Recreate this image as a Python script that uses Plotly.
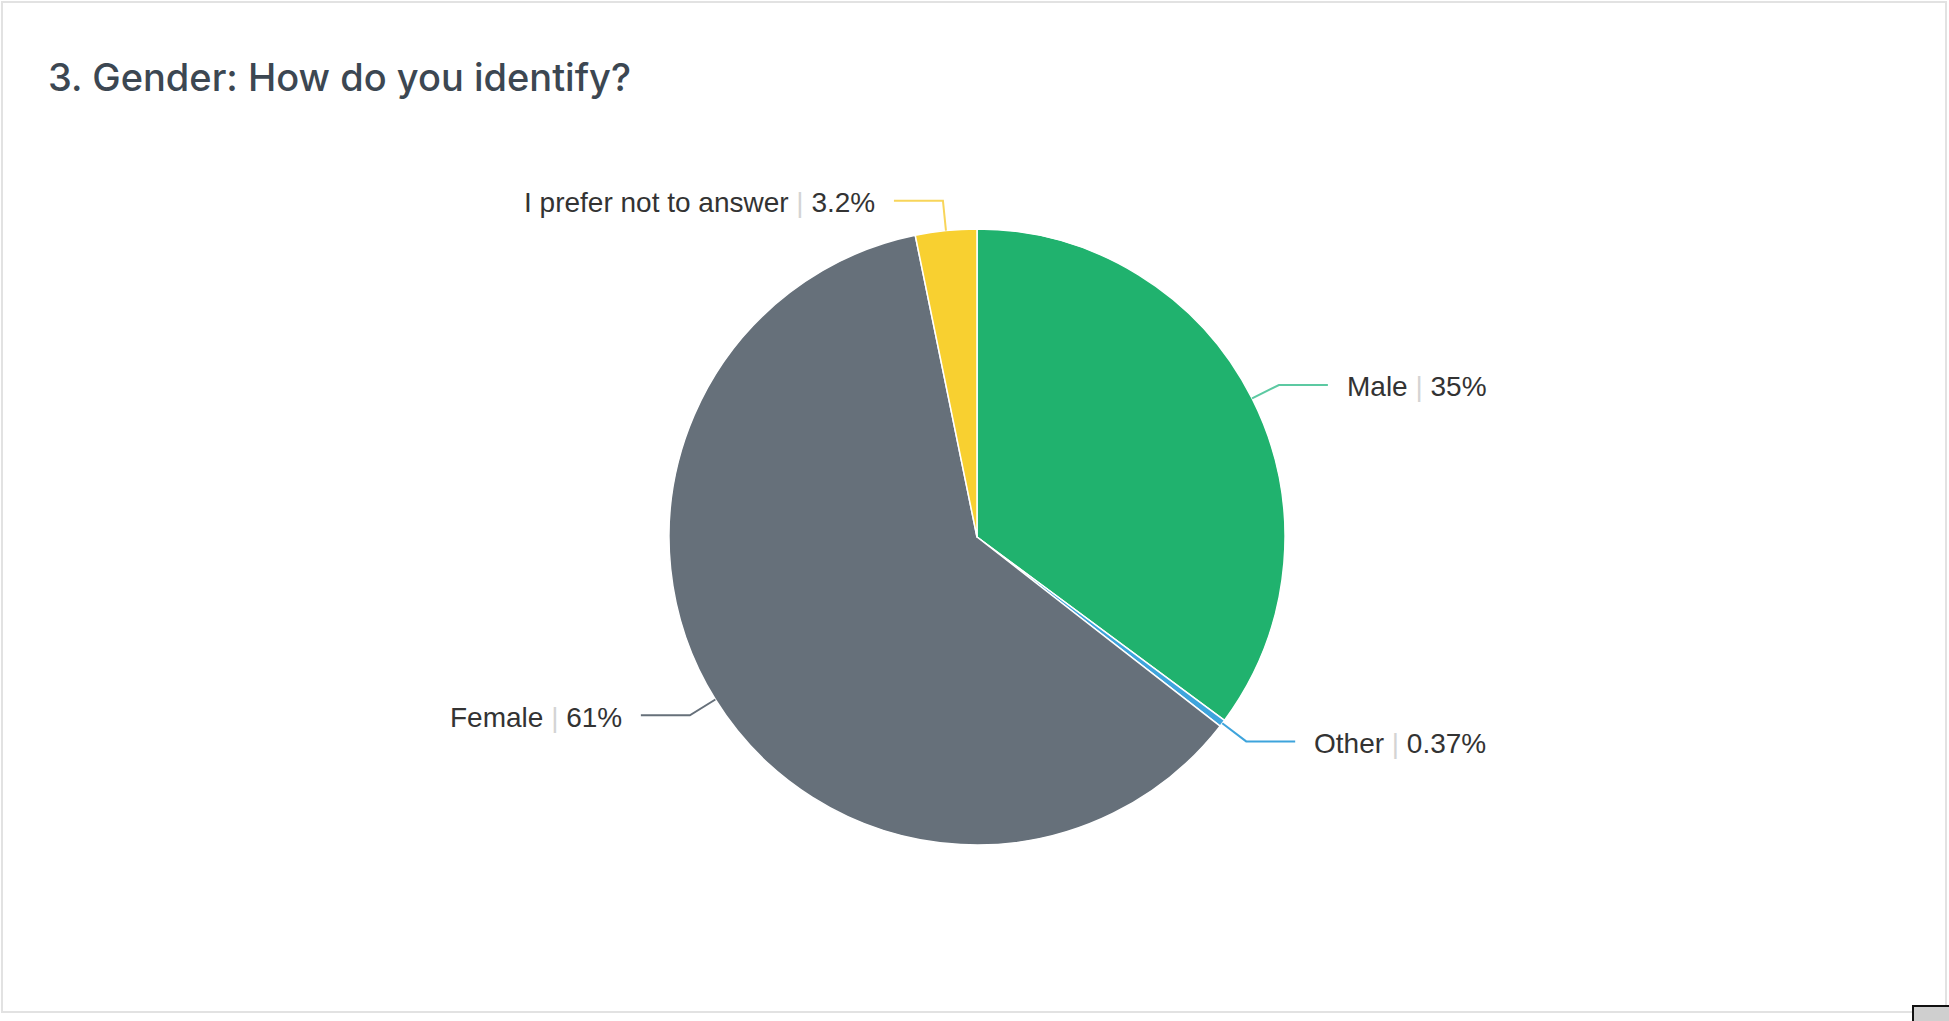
import math
import plotly.graph_objects as go

# ---- data ----
categories = ["Male", "Other", "Female", "I prefer not to answer"]
percent_values = [35, 0.37, 61, 3.2]
percent_labels = ["35%", "0.37%", "61%", "3.2%"]
slice_colors = ["#20b26e", "#3ea4dc", "#66707a", "#f8d030"]
line_colors = ["#5cc9a2", "#3ea4dc", "#66707a", "#f8d55a"]
title_text = "3. Gender: How do you identify?"

# ---- layout geometry (pixels) ----
W, H = 1949, 1021
CX, CY, R = 977, 537, 308
RADIAL = 30
HORIZ = 49
GAP = 17


def px(x):
    return x / W


def py(y):
    return 1 - y / H


fig = go.Figure()
fig.add_trace(go.Pie(
    labels=categories,
    values=percent_values,
    sort=False,
    direction="clockwise",
    rotation=0,
    marker=dict(colors=slice_colors, line=dict(color="white", width=1.5)),
    textinfo="none",
    textposition="none",
    hoverinfo="label+percent",
    showlegend=False,
    domain=dict(x=[px(CX - R), px(CX + R)], y=[py(CY + R), py(CY - R)]),
))

shapes = []
annotations = []
total = sum(percent_values)
cum = 0.0
for cat, val, lab, lc in zip(categories, percent_values, percent_labels, line_colors):
    mid = (cum + val / 2) / total * 2 * math.pi
    cum += val
    sx, sy = math.sin(mid), -math.cos(mid)
    x0, y0 = CX + R * sx, CY + R * sy
    x1, y1 = CX + (R + RADIAL) * sx, CY + (R + RADIAL) * sy
    side = 1 if sx > 0 else -1
    x2 = x1 + side * HORIZ
    path = f"M {px(x0)} {py(y0)} L {px(x1)} {py(y1)} L {px(x2)} {py(y1)}"
    shapes.append(dict(type="path", xref="paper", yref="paper", path=path,
                       line=dict(color=lc, width=2)))
    text = f"{cat}&nbsp;<span style='color:#d4d4d4'>|</span>&nbsp;{lab}"
    annotations.append(dict(
        x=px(x2 + side * GAP), y=py(y1 + 2), xref="paper", yref="paper",
        text=text, showarrow=False,
        xanchor="left" if side > 0 else "right", yanchor="middle",
        font=dict(family="Liberation Sans, Arial, sans-serif", size=28, color="#333333"),
    ))

# title
annotations.append(dict(
    x=px(46), y=py(77), xref="paper", yref="paper", text=title_text,
    showarrow=False, xanchor="left", yanchor="middle",
    font=dict(family="Inter, sans-serif", size=38, color="#3c4752", weight=500),
))

# card frame
shapes.append(dict(type="rect", xref="paper", yref="paper",
                   x0=px(2), y0=py(1012), x1=px(1946), y1=py(2),
                   line=dict(color="#e2e2e2", width=2), fillcolor="rgba(0,0,0,0)", layer="below"))
# small corner widget
shapes.append(dict(type="rect", xref="paper", yref="paper",
                   x0=px(1913), y0=py(1026), x1=px(1955), y1=py(1006),
                   line=dict(color="#111111", width=2), fillcolor="#cfcfcf"))

fig.update_layout(
    width=W, height=H,
    margin=dict(l=0, r=0, t=0, b=0),
    paper_bgcolor="white", plot_bgcolor="white",
    shapes=shapes, annotations=annotations,
)

fig.write_html("out.html", config={"displayModeBar": False},
               post_script="document.body.style.margin='0';document.body.style.overflow='hidden';")
